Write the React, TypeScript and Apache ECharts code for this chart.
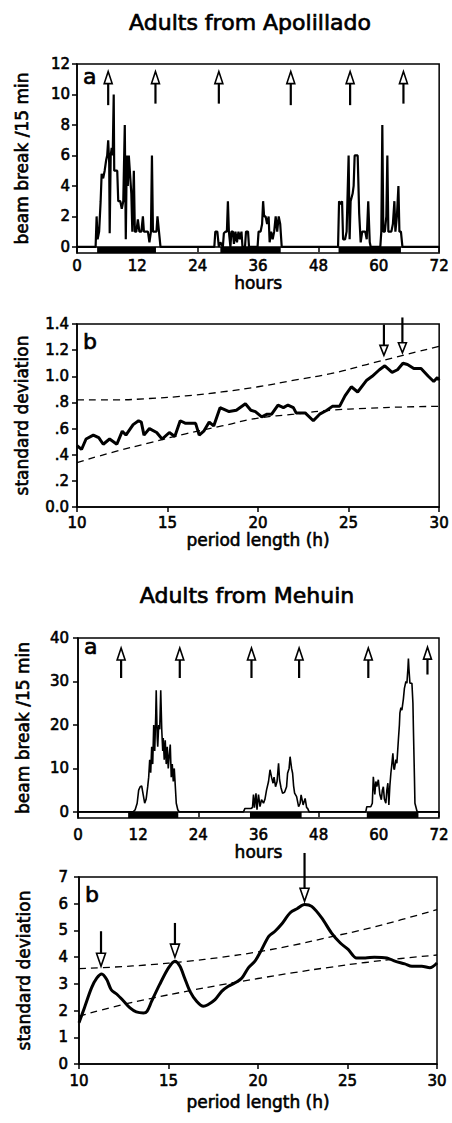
import React, { useEffect, useRef } from 'react';
import * as echarts from 'echarts';

const FONT = '"DejaVu Sans", "Liberation Sans", sans-serif';

const titleTop = 'Adults from Apolillado';
const titleBottom = 'Adults from Mehuin';

// ---- Apolillado (a): beam breaks per 15 min vs hours ----
const apolHourTicks = [0, 12, 24, 36, 48, 60, 72];
const apolBeamTicks = [0, 2, 4, 6, 8, 10, 12];
const apolActivity: [number, number][] = [
  [0, 0], [3.7, 0], [3.9, 2], [4.1, 0.5], [4.4, 1], [4.7, 3], [4.9, 4.8], [5.2, 4.5], [5.5, 5], [5.8, 5.7], [6.0, 6], [6.2, 7], [6.4, 5.5], [6.5, 0.9], [6.7, 6], [6.9, 6.5], [7.1, 6], [7.3, 10], [7.4, 5], [7.7, 5], [8.0, 5], [8.2, 3], [8.6, 3], [8.9, 2.5], [9.2, 3], [9.5, 8], [9.7, 0.5], [9.9, 6], [10.1, 4], [10.3, 6], [10.5, 5], [10.8, 3.5], [11.0, 1], [11.3, 5], [11.5, 1], [11.8, 1], [12.1, 1.8], [12.4, 1], [12.8, 1], [13.1, 2], [13.3, 1], [13.7, 1], [14.1, 1], [14.4, 0.3], [14.7, 1], [14.9, 6], [15.1, 1], [15.5, 1], [15.8, 1], [16.0, 2], [16.3, 1], [16.6, 0],
  [27.3, 0], [27.5, 1], [27.9, 1], [28.2, 0], [28.5, 0.3], [29.0, 0], [29.2, 0.9], [29.5, 1], [29.8, 1], [30.0, 3], [30.2, 1], [30.5, 0], [30.7, 1], [31.0, 1], [31.2, 0.2], [31.5, 1], [31.8, 0.3], [32.1, 1], [32.4, 0.5], [32.7, 1], [32.9, 0], [33.4, 0], [33.6, 1], [34.0, 1], [34.2, 0], [35.9, 0], [36.1, 1], [36.5, 1], [36.8, 1.5], [37.0, 3], [37.2, 2], [37.5, 2], [37.8, 1.5], [38.1, 2], [38.3, 0.3], [38.6, 1], [38.9, 0.5], [39.2, 1], [39.5, 2], [39.8, 1], [40.1, 2], [40.4, 1.5], [40.7, 0],
  [51.9, 0], [52.1, 3], [52.4, 2.8], [52.7, 3], [52.9, 0.5], [53.3, 0.5], [53.6, 1], [54.0, 6], [54.2, 0.5], [54.4, 3], [54.8, 3.5], [55.0, 4], [55.2, 6], [55.5, 6], [55.8, 6], [56.1, 2.2], [56.4, 0.3], [56.7, 1], [57.0, 1], [57.3, 1], [57.6, 0.5], [57.9, 3], [58.2, 0.3], [58.4, 0], [60.3, 0], [60.5, 1], [60.7, 8], [60.9, 1], [61.2, 1], [61.5, 2], [61.7, 6], [61.9, 1], [62.2, 1], [62.5, 1], [62.8, 1.5], [63.1, 3], [63.3, 1], [63.6, 2], [63.9, 4], [64.1, 1], [64.4, 1], [64.7, 0], [72, 0],
];
// dark (activity) periods: [start h, end h, baseline]
const apolDark: [number, number, number][] = [[4.0, 15.7, 0], [28.5, 40.5, 0], [52.0, 64.4, 0]];
// arrows: [hour, tail value, tip value]
const apolArrows: [number, number, number][] = [
  [6.2, 9.3, 11.5], [15.6, 9.4, 11.5], [28.2, 9.4, 11.5], [42.5, 9.3, 11.5], [54.3, 9.3, 11.5], [64.9, 9.4, 11.5],
];

// ---- Apolillado (b): standard deviation vs period length ----
const periodTicks = [10, 15, 20, 25, 30];
const apolSd: [number, number][] = [
  [10, 0.47], [10.25, 0.44], [10.5, 0.52], [10.9, 0.55], [11.2, 0.53], [11.45, 0.48], [11.8, 0.52], [12.2, 0.48], [12.5, 0.58], [12.7, 0.55], [13.1, 0.63], [13.4, 0.66], [13.55, 0.65], [13.7, 0.55], [14, 0.6], [14.4, 0.57], [14.7, 0.52], [15.1, 0.57], [15.4, 0.54], [15.7, 0.66], [16, 0.64], [16.55, 0.64], [16.75, 0.55], [17, 0.58], [17.3, 0.65], [17.55, 0.62], [17.9, 0.76], [18.4, 0.73], [18.8, 0.74], [19.3, 0.79], [19.6, 0.74], [19.85, 0.73], [20.2, 0.69], [20.5, 0.71], [20.75, 0.71], [21.1, 0.78], [21.4, 0.76], [21.65, 0.78], [21.95, 0.76], [22.1, 0.72], [22.6, 0.72], [23.05, 0.66], [23.4, 0.71], [23.8, 0.74], [24.1, 0.77], [24.5, 0.77], [24.8, 0.85], [25.15, 0.92], [25.5, 0.88], [26, 0.97], [26.3, 1.0], [26.7, 1.05], [27, 1.08], [27.4, 1.03], [27.7, 1.05], [28, 1.1], [28.25, 1.09], [28.6, 1.06], [29, 1.06], [29.4, 1.0], [29.7, 0.96], [29.9, 0.99], [30, 0.97],
];
const boundHours = [10, 12, 14, 16, 18, 20, 22, 24, 26, 28, 30];
const apolUpper = [0.82, 0.82, 0.83, 0.85, 0.88, 0.92, 0.97, 1.02, 1.09, 1.16, 1.23];
const apolLower = [0.34, 0.42, 0.49, 0.56, 0.62, 0.68, 0.71, 0.74, 0.755, 0.765, 0.77];
const apolSdTicks = [0, 0.2, 0.4, 0.6, 0.8, 1.0, 1.2, 1.4];
const apolPeakArrows: [number, number, number][] = [[26.95, 1.395, 1.16], [27.97, 1.45, 1.18]];

// ---- Mehuin (a) ----
const mehBeamTicks = [0, 10, 20, 30, 40];
const mehActivity: [number, number][] = [
  [0, 0], [11.0, 0], [11.4, 0.5], [11.8, 2], [12.1, 5], [12.4, 5.8], [12.7, 6], [13.0, 4], [13.3, 2], [13.6, 3], [13.9, 5.8], [14.1, 8], [14.3, 12], [14.5, 9], [14.7, 15], [14.9, 11], [15.1, 20], [15.3, 14], [15.5, 22], [15.6, 28], [15.8, 17], [15.9, 15], [16.1, 20], [16.3, 19], [16.5, 28], [16.7, 19], [16.9, 14], [17.0, 17], [17.2, 12], [17.4, 16.5], [17.6, 11], [17.8, 15], [18.0, 10], [18.2, 13], [18.4, 15.5], [18.6, 8], [18.8, 11], [19.0, 7], [19.2, 10], [19.4, 6], [19.6, 2], [19.9, 0.5], [20.2, 0],
  [33.0, 0], [33.3, 0.8], [34.5, 0.8], [34.8, 1], [35.0, 4], [35.2, 1], [35.5, 4.3], [35.7, 0.5], [36.0, 4], [36.3, 1.2], [36.6, 2.8], [37.0, 2], [37.3, 3], [37.6, 5], [38.0, 7], [38.3, 9.7], [38.6, 8], [38.9, 6.6], [39.1, 8], [39.4, 5.8], [39.7, 7], [40.0, 11.2], [40.2, 7.4], [40.5, 5.5], [40.8, 4.3], [41.2, 4.5], [41.6, 5.8], [41.8, 8.9], [42.1, 10], [42.3, 12.7], [42.6, 10], [42.8, 8.9], [43.0, 6], [43.2, 4.3], [43.6, 3.5], [44.0, 1.2], [44.3, 2], [44.5, 3.9], [44.9, 1.6], [45.3, 3.1], [45.6, 1], [45.8, 0.8], [46.1, 0],
  [57.4, 0], [57.6, 1.2], [58.4, 1.2], [58.7, 2], [58.9, 8.1], [59.2, 4], [59.4, 7], [59.6, 5.8], [59.9, 7.4], [60.2, 4], [60.5, 2.8], [60.7, 5], [60.9, 5.8], [61.1, 3], [61.4, 2], [61.6, 5], [61.8, 6.6], [62.0, 1.6], [62.2, 6], [62.4, 8.9], [62.6, 11], [62.8, 13.5], [63.0, 10], [63.1, 9.7], [63.4, 12], [63.6, 11.2], [63.9, 16.6], [64.1, 20], [64.2, 22.7], [64.4, 24], [64.6, 23.4], [64.9, 26], [65.1, 28.4], [65.4, 30], [65.6, 29.6], [65.8, 33], [65.9, 35.3], [66.0, 33], [66.2, 29.6], [66.6, 29.6], [66.8, 25], [66.9, 18.9], [67.1, 8], [67.2, 2], [67.6, 0.2], [67.8, 0], [72, 0],
];
const mehDark: [number, number, number][] = [[10.0, 20.0, 0], [34.3, 44.6, 0], [57.6, 67.9, 0]];
const mehArrows: [number, number, number][] = [
  [8.6, 30.8, 37.7], [20.3, 30.8, 37.7], [34.6, 30.8, 37.7], [44.1, 30.8, 37.7], [57.9, 30.8, 37.7], [69.7, 31.6, 37.9],
];

// ---- Mehuin (b) ----
const mehSdTicks = [0, 1, 2, 3, 4, 5, 6, 7];
const mehSd: [number, number][] = [
  [10, 1.54], [10.3, 2.1], [10.7, 2.85], [11, 3.22], [11.27, 3.37], [11.55, 3.16], [11.8, 2.78], [12.1, 2.62], [12.5, 2.35], [12.85, 2.1], [13.2, 1.95], [13.6, 1.91], [13.8, 1.97], [14.06, 2.35], [14.5, 2.97], [15, 3.6], [15.36, 3.85], [15.64, 3.66], [15.9, 3.22], [16.2, 2.72], [16.57, 2.35], [16.95, 2.16], [17.2, 2.22], [17.6, 2.41], [17.97, 2.72], [18.34, 2.91], [18.7, 3.03], [19.1, 3.22], [19.46, 3.6], [19.83, 3.85], [20.2, 4.28], [20.6, 4.78], [20.95, 4.97], [21.3, 5.22], [21.8, 5.66], [22.2, 5.82], [22.6, 5.97], [23, 5.9], [23.56, 5.47], [24.1, 4.91], [24.6, 4.53], [25.05, 4.28], [25.5, 3.97], [26, 3.97], [26.5, 4.0], [27.2, 3.97], [27.65, 3.85], [28.2, 3.75], [28.6, 3.66], [29.15, 3.66], [29.6, 3.6], [30, 3.78],
];
const mehUpper = [3.57, 3.63, 3.72, 3.84, 4.0, 4.2, 4.45, 4.75, 5.05, 5.4, 5.78];
const mehLower = [1.79, 2.15, 2.45, 2.72, 2.97, 3.2, 3.42, 3.62, 3.8, 3.95, 4.08];
const mehPeakArrows: [number, number, number][] = [[11.23, 4.97, 3.66], [15.36, 5.28, 4.0], [22.6, 7.9, 6.09]];

const zip = (xs: number[], ys: number[]) => xs.map((x, i) => [x, ys[i]]);

function arrowRenderer(headW: number, headH: number) {
  return (params: any, api: any) => {
    const x = api.value(0);
    const tail = api.coord([x, api.value(1)]);
    const tip = api.coord([x, api.value(2)]);
    const dir = tip[1] < tail[1] ? -1 : 1;
    const baseY = tip[1] - dir * headH;
    return {
      type: 'group',
      children: [
        { type: 'line', shape: { x1: tail[0], y1: tail[1], x2: tail[0], y2: baseY }, style: { stroke: '#000', lineWidth: 2.2 } },
        {
          type: 'polygon',
          shape: { points: [[tip[0], tip[1]], [tip[0] - headW / 2, baseY], [tip[0] + headW / 2, baseY]] },
          style: { fill: '#fff', stroke: '#000', lineWidth: 1.6 },
        },
      ],
    };
  };
}

const darkRenderer = (params: any, api: any) => {
  const s = api.coord([api.value(0), api.value(2)]);
  const e = api.coord([api.value(1), api.value(2)]);
  const cs = params.coordSys;
  return {
    type: 'rect',
    shape: { x: s[0], y: s[1], width: e[0] - s[0], height: cs.y + cs.height - s[1] },
    style: { fill: '#000' },
  };
};

const txt = { color: '#000', fontFamily: FONT, fontWeight: 'normal' as const, textBorderColor: '#000', textBorderWidth: 0.6 };

function xAxis(gridIndex: number, min: number, max: number, interval: number, name: string, nameGap: number, margin: number) {
  return {
    type: 'value', gridIndex, min, max, interval, name, nameLocation: 'middle', nameGap,
    nameTextStyle: { ...txt, fontSize: 17 },
    axisLine: { show: true, lineStyle: { color: '#000', width: 1.5 } },
    axisTick: { show: true, length: 5, lineStyle: { color: '#000', width: 1.5 } },
    axisLabel: { ...txt, fontSize: 15, margin },
    splitLine: { show: false },
  };
}

function yAxis(gridIndex: number, min: number, max: number, ticks: number[], name: string, margin: number, formatter?: any) {
  return {
    type: 'value', gridIndex, min, max, name, nameLocation: 'middle', nameGap: 47, nameRotate: 90,
    nameTextStyle: { ...txt, fontSize: 17 },
    axisLine: { show: true, lineStyle: { color: '#000', width: 1.5 } },
    axisTick: { show: true, length: 5, customValues: ticks, lineStyle: { color: '#000', width: 1.5 } },
    axisLabel: { ...txt, fontSize: 15, margin, customValues: ticks, formatter: formatter || ((v: number) => String(v)) },
    splitLine: { show: false },
  };
}

const sdFormat = (v: number) => {
  if (Math.abs(v) < 1e-9) return '0.0';
  const s = v.toFixed(1);
  return v < 1 ? s.slice(1) : s;
};

export default function App() {
  const ref = useRef<HTMLDivElement>(null);
  useEffect(() => {
    if (!ref.current) return;
    const chart = echarts.init(ref.current, null, { renderer: 'svg' });
    const grid = (left: number, top: number, width: number, height: number) => ({
      left, top, width, height, show: true, borderColor: '#000', borderWidth: 1.5, backgroundColor: 'transparent',
    });
    const dashed = { color: '#000', width: 1.3, type: [7, 5] as any };
    const label = (text: string, x: number, y: number, size: number, align = 'left') => ({
      type: 'text', x, y,
      style: { text, font: `${size}px ${FONT}`, fill: '#000', stroke: '#000', lineWidth: 0.7, textAlign: align, textVerticalAlign: 'middle' },
    });
    chart.setOption({
      animation: false,
      backgroundColor: '#fff',
      grid: [grid(77, 64, 365, 189), grid(77, 324, 365, 183), grid(78, 638, 361, 180), grid(79, 877, 358, 187)],
      xAxis: [
        xAxis(0, apolHourTicks[0], apolHourTicks[apolHourTicks.length - 1], 12, 'hours', 20, 5),
        xAxis(1, periodTicks[0], periodTicks[periodTicks.length - 1], 5, 'period length (h)', 22, 8),
        xAxis(2, apolHourTicks[0], apolHourTicks[apolHourTicks.length - 1], 12, 'hours', 23, 9),
        xAxis(3, periodTicks[0], periodTicks[periodTicks.length - 1], 5, 'period length (h)', 29, 9),
      ],
      yAxis: [
        yAxis(0, -0.4, 12, apolBeamTicks, 'beam break /15 min', 7),
        yAxis(1, 0, 1.4, apolSdTicks, 'standard deviation', 8, sdFormat),
        yAxis(2, -1.4, 40, mehBeamTicks, 'beam break /15 min', 9),
        yAxis(3, 0, 7, mehSdTicks, 'standard deviation', 11),
      ],
      graphic: [
        label(titleTop, 250, 22, 22, 'center'),
        label(titleBottom, 247, 595, 22, 'center'),
        label('a', 83, 76, 22),
        label('b', 83, 341, 22),
        label('a', 84, 646, 22),
        label('b', 85, 894, 22),
      ],
      series: [
        { type: 'custom', xAxisIndex: 0, yAxisIndex: 0, renderItem: darkRenderer, data: apolDark, encode: { x: [0, 1], y: 2 }, silent: true },
        { type: 'line', xAxisIndex: 0, yAxisIndex: 0, data: apolActivity, showSymbol: false, lineStyle: { color: '#000', width: 2.2 }, z: 3 },
        { type: 'custom', xAxisIndex: 0, yAxisIndex: 0, renderItem: arrowRenderer(8, 12), data: apolArrows, encode: { x: 0, y: [1, 2] }, clip: false, z: 4 },

        { type: 'line', xAxisIndex: 1, yAxisIndex: 1, data: zip(boundHours, apolUpper), smooth: true, showSymbol: false, lineStyle: dashed },
        { type: 'line', xAxisIndex: 1, yAxisIndex: 1, data: zip(boundHours, apolLower), smooth: true, showSymbol: false, lineStyle: dashed },
        { type: 'line', xAxisIndex: 1, yAxisIndex: 1, data: apolSd, showSymbol: false, lineStyle: { color: '#000', width: 3 }, z: 3 },
        { type: 'custom', xAxisIndex: 1, yAxisIndex: 1, renderItem: arrowRenderer(8, 10), data: apolPeakArrows, encode: { x: 0, y: [1, 2] }, clip: false, z: 4 },

        { type: 'custom', xAxisIndex: 2, yAxisIndex: 2, renderItem: darkRenderer, data: mehDark, encode: { x: [0, 1], y: 2 }, silent: true },
        { type: 'line', xAxisIndex: 2, yAxisIndex: 2, data: mehActivity, showSymbol: false, lineStyle: { color: '#000', width: 1.6 }, z: 3 },
        { type: 'custom', xAxisIndex: 2, yAxisIndex: 2, renderItem: arrowRenderer(8, 12), data: mehArrows, encode: { x: 0, y: [1, 2] }, clip: false, z: 4 },

        { type: 'line', xAxisIndex: 3, yAxisIndex: 3, data: zip(boundHours, mehUpper), smooth: true, showSymbol: false, lineStyle: dashed },
        { type: 'line', xAxisIndex: 3, yAxisIndex: 3, data: zip(boundHours, mehLower), smooth: true, showSymbol: false, lineStyle: dashed },
        { type: 'line', xAxisIndex: 3, yAxisIndex: 3, data: mehSd, smooth: 0.3, showSymbol: false, lineStyle: { color: '#000', width: 3 }, z: 3 },
        { type: 'custom', xAxisIndex: 3, yAxisIndex: 3, renderItem: arrowRenderer(9, 13), data: mehPeakArrows, encode: { x: 0, y: [1, 2] }, clip: false, z: 4 },
      ],
    });
    return () => chart.dispose();
  }, []);
  return <div ref={ref} style={{ position: 'absolute', left: 0, top: 0, width: 452, height: 1123 }} />;
}
